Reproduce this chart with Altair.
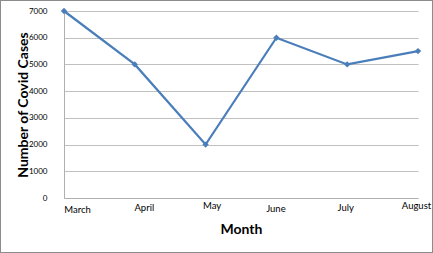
import altair as alt
import pandas as pd

months = ["March", "April", "May", "June", "July", "August"]
cases = [7000, 5000, 2000, 6000, 5000, 5500]

df = pd.DataFrame({"Month": months, "Cases": cases})

W, H = 354, 187
FONT = "Lato"

x_enc = alt.X(
    "Month:N",
    sort=months,
    scale=alt.Scale(type="point", padding=0),
    axis=alt.Axis(
        title="Month",
        titleFont=FONT,
        titleFontSize=14,
        titleFontWeight="bold",
        titleColor="#000000",
        titlePadding=9,
        labelAngle=0,
        labelFont=FONT,
        labelFontSize=9.5,
        labelColor="#000000",
        labelBaseline="top",
        labelPadding={
            "condition": [
                {"test": "datum.value === 'March'", "value": 6},
                {"test": "datum.value === 'April'", "value": 4},
                {"test": "datum.value === 'May'", "value": 2},
                {"test": "datum.value === 'June'", "value": 5},
                {"test": "datum.value === 'July'", "value": 4.5},
            ],
            "value": 2.5,
        },
        labelOffset={
            "condition": [
                {"test": "datum.value === 'March'", "value": 13},
                {"test": "datum.value === 'April'", "value": 9},
                {"test": "datum.value === 'May'", "value": 6},
                {"test": "datum.value === 'June'", "value": -1},
                {"test": "datum.value === 'July'", "value": -2},
            ],
            "value": -2,
        },
        ticks=False,
        grid=False,
        domainColor="#b0b0b0",
        domainWidth=1,
    ),
)

y_enc = alt.Y(
    "Cases:Q",
    scale=alt.Scale(domain=[0, 7000], nice=False),
    axis=alt.Axis(
        title="Number of Covid Cases",
        titleFont=FONT,
        titleFontSize=14,
        titleFontWeight="bold",
        titleColor="#000000",
        titlePadding=-2,
        values=[0, 1000, 2000, 3000, 4000, 5000, 6000, 7000],
        format="d",
        labelFont=FONT,
        labelFontSize=8,
        labelColor="#000000",
        labelPadding=17,
        ticks=False,
        gridColor="#c0c0c0",
        gridWidth=1,
        domainColor="#b0b0b0",
        domainWidth=1,
    ),
)

line = alt.Chart(df).mark_line(
    color="#4a7ebb", strokeWidth=2.2,
    point=alt.OverlayMarkDef(shape="diamond", size=40, filled=True, color="#4a7ebb"),
).encode(x=x_enc, y=y_enc)

border = alt.Chart(df).mark_rect(
    fill=None, stroke="#8c8c8c", strokeWidth=1
).encode(
    x=alt.value(-63.5), x2=alt.value(W + 14.5),
    y=alt.value(-10.5), y2=alt.value(H + 54.5),
)

chart = alt.layer(line, border).properties(
    width=W, height=H,
    padding={"left": 64, "top": 11, "right": 15, "bottom": 55},
    autosize=alt.AutoSizeParams(type="none"),
    background="#ffffff",
).configure_view(stroke=None)

chart.save("out.html", embed_options={"renderer": "svg", "actions": False})
